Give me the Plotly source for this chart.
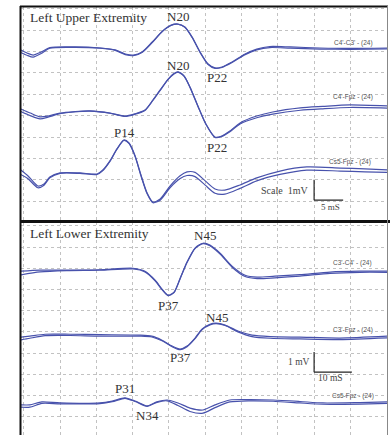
import plotly.graph_objects as go

# ---------------- data (time in ms, amplitude in mV) ----------------
upper_channels = ["C4'-C3' - (24)", "C4'-Fpz - (24)", "Cs5-Fpz - (24)"]
lower_channels = ["C3'-C4' - (24)", "C3'-Fpz - (24)", "Cs5-Fpz - (24)"]

t_u1 = [-0.4, 0.45, 1.3, 2.4, 3.6, 7.1, 10.5, 12.6, 14.0, 15.1, 16.3, 17.7, 19.1, 20.3, 21.25,
        22.2, 23.2, 24.3, 25.4, 26.35, 27.3, 28.7, 30.5, 32.1, 33.9, 36.7, 40.8, 44.9, 50.1]
a_u1 = [-0.08, -0.22, -0.32, -0.18, 0.03, 0.06, 0.01, -0.08, -0.27, -0.32, -0.18, 0.29, 0.80, 1.08, 1.13,
        0.99, 0.52, -0.18, -0.74, -0.92, -0.88, -0.64, -0.27, -0.04, 0.08, 0.06, 0.01, -0.01, 0.01]
b_u1 = [-0.2, -0.33, -0.42, -0.25, 0.0, 0.04, 0.0, -0.1, -0.3, -0.35, -0.2, 0.26, 0.78, 1.06, 1.12,
        0.98, 0.5, -0.2, -0.76, -0.94, -0.9, -0.67, -0.3, -0.08, 0.03, 0.0, -0.04, -0.05, -0.03]

t_u2 = [-0.4, 0.9, 2.25, 3.35, 5.0, 7.1, 9.1, 11.9, 13.95, 15.3, 16.7, 17.8, 18.8, 19.9, 20.7,
        21.25, 22.1, 22.9, 24.0, 25.1, 26.35, 27.3, 28.4, 29.8, 32.1, 34.3, 38.1, 41.2, 44.9, 50.1]
a_u2 = [-0.14, -0.33, -0.51, -0.47, -0.33, -0.26, -0.23, -0.33, -0.47, -0.37, -0.19, 0.28, 0.75, 1.26, 1.52,
        1.59, 1.40, 0.89, 0.0, -0.84, -1.45, -1.40, -1.17, -0.79, -0.47, -0.28, -0.09, -0.02, 0.05, 0.0]
b_u2 = [-0.26, -0.45, -0.6, -0.52, -0.36, -0.27, -0.24, -0.34, -0.49, -0.39, -0.21, 0.26, 0.73, 1.24, 1.5,
        1.58, 1.39, 0.87, -0.02, -0.86, -1.47, -1.42, -1.2, -0.84, -0.55, -0.38, -0.2, -0.13, -0.07, -0.1]

t_u3 = [-0.4, 0.6, 1.95, 2.8, 3.6, 5.0, 7.75, 10.1, 10.9, 11.9, 12.85, 13.8, 14.5, 15.3, 16.15, 17.0,
        17.8, 18.8, 20.15, 21.5, 22.5, 23.6, 25.0, 26.35, 27.7, 29.8, 32.1, 35.3, 39.0, 43.6, 47.0, 50.1]
a_u3 = [0.01, -0.27, -0.74, -0.65, -0.32, -0.13, -0.13, -0.18, 0.01, 0.45, 1.0, 1.41, 1.27, 0.71, -0.22, -1.07,
        -1.49, -1.35, -0.74, -0.27, -0.08, -0.1, -0.5, -0.88, -0.93, -0.69, -0.36, -0.04, 0.15, 0.10, 0.06, 0.01]
b_u3 = [-0.2, -0.4, -0.82, -0.7, -0.36, -0.15, -0.15, -0.2, -0.02, 0.42, 0.98, 1.39, 1.25, 0.68, -0.26, -1.1,
        -1.52, -1.4, -0.82, -0.4, -0.25, -0.3, -0.7, -1.08, -1.12, -0.85, -0.5, -0.2, 0.0, -0.04, -0.08, -0.1]

t_l1 = [-0.8, 4.5, 11.9, 21.0, 30.1, 33.4, 36.2, 38.1, 39.75, 41.4, 43.1, 45.0, 47.2, 49.4, 51.3, 54.1,
        57.4, 61.0, 64.3, 69.2, 76.1, 84.4, 92.6, 100.1]
a_l1 = [-0.05, 0.0, 0.0, 0.02, 0.09, -0.05, -0.47, -0.89, -1.18, -1.04, -0.38, 0.38, 1.04, 1.27, 1.18, 0.80,
        0.19, -0.24, -0.33, -0.28, -0.21, -0.09, -0.05, -0.05]
b_l1 = [-0.22, -0.08, -0.02, 0.0, 0.06, -0.08, -0.5, -0.92, -1.2, -1.06, -0.4, 0.36, 1.02, 1.25, 1.15, 0.76,
        0.14, -0.3, -0.4, -0.36, -0.28, -0.15, -0.1, -0.1]

t_l2 = [-0.8, 1.7, 5.9, 12.8, 21.0, 32.0, 35.3, 38.1, 40.9, 43.1, 45.0, 47.2, 49.1, 51.3, 53.0, 55.5,
        59.0, 62.9, 67.9, 76.1, 87.1, 100.1]
a_l2 = [-0.05, 0.0, 0.09, 0.09, 0.07, 0.05, 0.0, -0.19, -0.47, -0.61, -0.47, -0.09, 0.33, 0.56, 0.61, 0.52,
        0.24, 0.05, -0.02, -0.05, -0.09, 0.0]
b_l2 = [-0.18, -0.1, 0.02, 0.03, 0.0, 0.0, -0.04, -0.22, -0.5, -0.64, -0.5, -0.12, 0.3, 0.53, 0.59, 0.5,
        0.2, -0.02, -0.1, -0.13, -0.16, -0.08]

t_l3 = [-0.8, 1.7, 5.0, 10.0, 21.0, 24.4, 27.9, 30.7, 34.0, 36.7, 39.5, 42.5, 45.8, 49.4, 52.7, 56.8,
        62.3, 68.7, 76.1, 82.4, 92.6, 100.1]
a_l3 = [-0.09, -0.09, 0.05, 0.0, 0.0, 0.09, 0.24, 0.09, -0.14, 0.05, 0.14, 0.0, -0.24, -0.33, -0.09, 0.14,
        0.16, 0.14, 0.07, 0.0, 0.02, 0.05]
b_l3 = [-0.2, -0.2, -0.02, -0.04, -0.03, 0.06, 0.22, 0.07, -0.16, 0.03, 0.1, -0.12, -0.4, -0.48, -0.22, 0.05,
        0.1, 0.08, 0.0, -0.06, -0.05, -0.02]

upper_peaks = ["N20", "N20", "P22", "P22", "P14"]
lower_peaks = ["N45", "P37", "N45", "P37", "P31", "N34"]

# ---------------- layout helpers ----------------
W, H = 390, 435
BLUE = "rgb(72,82,172)"
SERIF = "Liberation Serif, Times New Roman, serif"

upper_offsets = [8.15, 5.45, 2.45]
lower_offsets = [7.91, 4.80, 1.65]

fig = go.Figure()

def add_pair(t, a, b, off, xa, ya):
    for amp in (a, b):
        fig.add_trace(go.Scatter(
            x=t, y=[off + v for v in amp], mode="lines",
            line=dict(color=BLUE, width=1.2, shape="spline", smoothing=0.7),
            xaxis=xa, yaxis=ya, showlegend=False, hoverinfo="skip"))

upper = [(t_u1, a_u1, b_u1), (t_u2, a_u2, b_u2), (t_u3, a_u3, b_u3)]
lower = [(t_l1, a_l1, b_l1), (t_l2, a_l2, b_l2), (t_l3, a_l3, b_l3)]
for (t, a, b), off in zip(upper, upper_offsets):
    add_pair(t, a, b, off, "x", "y")
for (t, a, b), off in zip(lower, lower_offsets):
    add_pair(t, a, b, off, "x2", "y2")

def px_x(p):
    return p / W

def px_y(p):
    return 1 - p / H

grid = dict(showgrid=True, griddash="dot", gridcolor="#c2c2c2", gridwidth=1,
            showticklabels=False, ticks="", zeroline=False, showline=False, fixedrange=True)

fig.update_layout(
    width=W, height=H, autosize=False,
    margin=dict(l=0, r=0, t=0, b=0),
    paper_bgcolor="white", plot_bgcolor="white",
    xaxis=dict(domain=[px_x(21), px_x(387)], range=[-0.372, 50.04], tick0=0, dtick=5, anchor="y", **grid),
    yaxis=dict(domain=[px_y(221), px_y(6.5)], range=[0.075, 10.1], tick0=0, dtick=1, anchor="x", **grid),
    xaxis2=dict(domain=[px_x(21), px_x(387)], range=[-0.744, 100.08], tick0=0, dtick=10, anchor="y2", **grid),
    yaxis2=dict(domain=[px_y(435), px_y(222)], range=[0.14, 10.18], tick0=0, dtick=1, anchor="x2", **grid),
)

# ---------------- annotations ----------------
ann = []
upper_label_pos = [(21.25, 9.61), (21.25, 7.36), (26.65, 6.76), (26.65, 3.53), (13.83, 4.19)]
lower_label_pos = [(49.9, 9.55), (39.75, 6.26), (53.25, 5.69), (43.07, 3.81), (27.9, 2.35), (34.0, 1.08)]
for txt, (x, y) in zip(upper_peaks, upper_label_pos):
    ann.append(dict(x=x, y=y, xref="x", yref="y", text=txt, showarrow=False,
                    xanchor="center", yanchor="middle",
                    font=dict(family=SERIF, size=13, color="#333")))
for txt, (x, y) in zip(lower_peaks, lower_label_pos):
    ann.append(dict(x=x, y=y, xref="x2", yref="y2", text=txt, showarrow=False,
                    xanchor="center", yanchor="middle",
                    font=dict(family=SERIF, size=13, color="#333")))

upper_ch_pos = [(45.4, 8.39), (45.4, 5.87), (44.9, 2.83)]
lower_ch_pos = [(90.7, 8.24), (90.7, 5.08), (90.7, 1.98)]
for txt, (x, y) in zip(upper_channels, upper_ch_pos):
    ann.append(dict(x=x, y=y, xref="x", yref="y", text=txt, showarrow=False,
                    xanchor="center", yanchor="middle",
                    font=dict(family="Liberation Sans, Arial, sans-serif", size=6.5, color="#555")))
for txt, (x, y) in zip(lower_channels, lower_ch_pos):
    ann.append(dict(x=x, y=y, xref="x2", yref="y2", text=txt, showarrow=False,
                    xanchor="center", yanchor="middle",
                    font=dict(family="Liberation Sans, Arial, sans-serif", size=6.5, color="#555")))

ann += [
    dict(x=39.4, y=1.52, xref="x", yref="y", text="Scale  1mV", showarrow=False, xanchor="right",
         yanchor="middle", font=dict(family=SERIF, size=10, color="#444")),
    dict(x=42.2, y=0.73, xref="x", yref="y", text="5 mS", showarrow=False, yanchor="middle",
         font=dict(family=SERIF, size=9, color="#444")),
    dict(x=79.4, y=3.58, xref="x2", yref="y2", text="1 mV", showarrow=False, xanchor="right",
         yanchor="middle", font=dict(family=SERIF, size=9.5, color="#444")),
    dict(x=84.4, y=2.82, xref="x2", yref="y2", text="10 mS", showarrow=False, yanchor="middle",
         font=dict(family=SERIF, size=9.5, color="#444")),
    dict(x=px_x(28), y=px_y(17), xref="paper", yref="paper", text="Left Upper Extremity", showarrow=False,
         xanchor="left", yanchor="middle", font=dict(family=SERIF, size=13.5, color="#333")),
    dict(x=px_x(28), y=px_y(233), xref="paper", yref="paper", text="Left Lower Extremity", showarrow=False,
         xanchor="left", yanchor="middle", font=dict(family=SERIF, size=13.5, color="#333")),
]
fig.update_layout(annotations=ann)

# ---------------- scale bars and panel frames ----------------
shapes = [
    dict(type="line", xref="x", yref="y", x0=40, x1=40, y0=1.05, y1=2.0, line=dict(color="#222", width=1.2)),
    dict(type="line", xref="x", yref="y", x0=40, x1=44, y0=1.05, y1=1.05, line=dict(color="#222", width=1.2)),
    dict(type="line", xref="x2", yref="y2", x0=80, x1=80, y0=3.1, y1=4.05, line=dict(color="#222", width=1.2)),
    dict(type="line", xref="x2", yref="y2", x0=80, x1=90.4, y0=3.1, y1=3.1, line=dict(color="#222", width=1.2)),
    # frames
    dict(type="line", xref="paper", yref="paper", x0=px_x(20.5), x1=px_x(20.5), y0=0, y1=px_y(6),
         line=dict(color="#111", width=2)),
    dict(type="line", xref="paper", yref="paper", x0=px_x(20), x1=px_x(388), y0=px_y(6.5), y1=px_y(6.5),
         line=dict(color="#111", width=2)),
    dict(type="line", xref="paper", yref="paper", x0=px_x(20), x1=1, y0=px_y(221.5), y1=px_y(221.5),
         line=dict(color="#111", width=3)),
    dict(type="line", xref="paper", yref="paper", x0=px_x(387.5), x1=px_x(387.5), y0=0, y1=px_y(6),
         line=dict(color="#888", width=1)),
]
fig.update_layout(shapes=shapes)

fig.write_html("out.html",
               config={"displayModeBar": False, "staticPlot": True},
               post_script="document.body.style.margin='0';document.body.style.overflow='hidden';")
